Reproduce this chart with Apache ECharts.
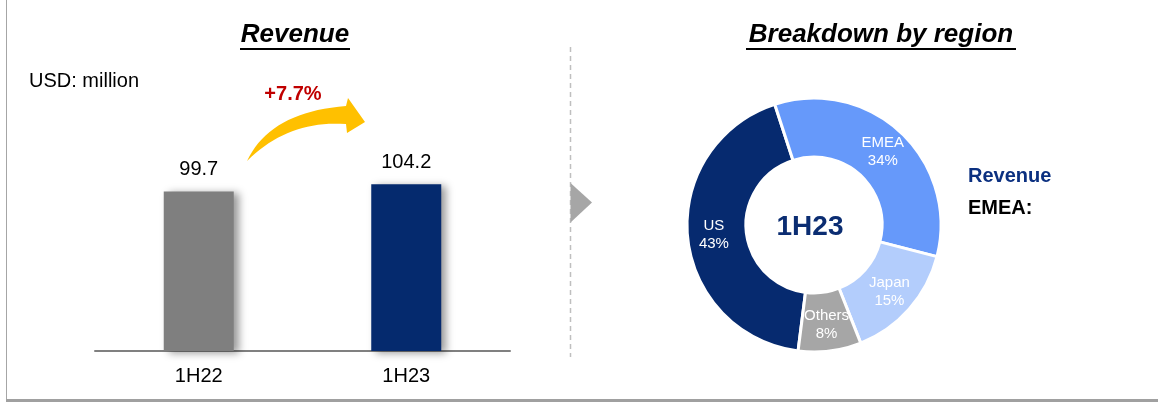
<!DOCTYPE html>
<html><head><meta charset="utf-8">
<script src="https://cdn.jsdelivr.net/npm/echarts@6/dist/echarts.min.js"></script>
<style>html,body{margin:0;padding:0;background:#fff}#c{width:1158px;height:402px}</style>
</head><body><div id="c"></div>
<script>
// ---- data ----
const periods = ['1H22', '1H23'];
const revenue = [99.7, 104.2];
const growthLabel = '+7.7%';
const unitLabel = 'USD: million';
const regions = ['US', 'EMEA', 'Japan', 'Others'];
const regionShare = [43, 34, 15, 8];
const pieCenterLabel = '1H23';
const leftTitle = 'Revenue';
const rightTitle = 'Breakdown by region';
const sideNote = ['Revenue', 'EMEA:'];

// ---- styles ----
const barColors = ['#7F7F7F', '#052A6E'];
const regionColors = ['#062A6F', '#6699FA', '#B3CDFC', '#A6A6A6'];
const FONT = '"Liberation Sans", Arial, sans-serif';

// curved growth arrow outline (decoration)
function quad(p0, c, p1, n) {
  const pts = [];
  for (let i = 0; i <= n; i++) {
    const t = i / n, u = 1 - t;
    pts.push([u * u * p0[0] + 2 * u * t * c[0] + t * t * p1[0], u * u * p0[1] + 2 * u * t * c[1] + t * t * p1[1]]);
  }
  return pts;
}
const arrowPts = [].concat(
  quad([247, 161], [270, 112], [346, 106], 20),
  [[348, 98], [365, 122], [347, 133]],
  quad([346, 124], [288, 120], [247, 161], 20)
);

const chart = echarts.init(document.getElementById('c'), null, {renderer: 'canvas'});

const option = {
  animation: false,
  backgroundColor: '#fff',
  grid: {left: 95, width: 415, top: 111, bottom: 51, containLabel: false},
  xAxis: {
    type: 'category', data: periods,
    axisLine: {lineStyle: {color: '#808080', width: 2}},
    axisTick: {show: false},
    axisLabel: {fontFamily: FONT, fontSize: 20, color: '#000', margin: 15}
  },
  yAxis: {type: 'value', min: 0, max: 150, show: false, splitLine: {show: false}},
  series: [
    {
      type: 'bar', barWidth: 70,
      data: revenue.map((v, i) => ({value: v, itemStyle: {color: barColors[i]}})),
      itemStyle: {shadowBlur: 8, shadowOffsetX: 5, shadowOffsetY: 2, shadowColor: 'rgba(0,0,0,0.4)'},
      label: {show: true, position: 'top', distance: 12, fontFamily: FONT, fontSize: 20, color: '#000'}
    },
    {
      type: 'pie', center: [814, 225], radius: [68, 127], startAngle: 262.8, clockwise: true,
      data: regions.map((r, i) => ({name: r, value: regionShare[i], itemStyle: {color: regionColors[i]}})),
      itemStyle: {borderColor: '#fff', borderWidth: 3},
      label: {show: true, position: 'inside', formatter: '{b}\n{c}%', fontFamily: FONT, fontSize: 15, lineHeight: 18, color: '#fff'},
      labelLine: {show: false},
      emphasis: {disabled: true}
    }
  ],
  graphic: [
    {type: 'line', shape: {x1: 6.5, y1: 0, x2: 6.5, y2: 400}, style: {stroke: '#A6A6A6', lineWidth: 1}},
    {type: 'line', shape: {x1: 6, y1: 400.5, x2: 1158, y2: 400.5}, style: {stroke: '#A0A0A0', lineWidth: 3}},
    {type: 'text', x: 295, y: 35, style: {text: leftTitle, font: 'italic bold 26px ' + FONT, fill: '#000', textAlign: 'center', textVerticalAlign: 'middle'}},
    {type: 'line', shape: {x1: 240, y1: 49, x2: 350, y2: 49}, style: {stroke: '#000', lineWidth: 2}},
    {type: 'text', x: 881, y: 35, style: {text: rightTitle, font: 'italic bold 26px ' + FONT, fill: '#000', textAlign: 'center', textVerticalAlign: 'middle'}},
    {type: 'line', shape: {x1: 746, y1: 49, x2: 1016, y2: 49}, style: {stroke: '#000', lineWidth: 2}},
    {type: 'text', x: 29, y: 81, style: {text: unitLabel, font: '20px ' + FONT, fill: '#000', textAlign: 'left', textVerticalAlign: 'middle'}},
    {type: 'text', x: 293, y: 94, style: {text: growthLabel, font: 'bold 20px ' + FONT, fill: '#C00000', textAlign: 'center', textVerticalAlign: 'middle'}},
    {type: 'polygon', shape: {points: arrowPts}, style: {fill: '#FFC000'}},
    {type: 'line', shape: {x1: 570.5, y1: 47, x2: 570.5, y2: 357}, style: {stroke: '#BFBFBF', lineWidth: 1.5, lineDash: [5, 4]}},
    {type: 'polygon', shape: {points: [[570.5, 183], [592, 202.5], [570.5, 222.5]]}, style: {fill: '#A6A6A6'}},
    {type: 'text', x: 810, y: 227, style: {text: pieCenterLabel, font: 'bold 28px ' + FONT, fill: '#0B2D72', textAlign: 'center', textVerticalAlign: 'middle'}},
    {type: 'text', x: 968, y: 176, style: {text: sideNote[0], font: 'bold 20px ' + FONT, fill: '#0B3080', textAlign: 'left', textVerticalAlign: 'middle'}},
    {type: 'text', x: 968, y: 208, style: {text: sideNote[1], font: 'bold 20px ' + FONT, fill: '#000', textAlign: 'left', textVerticalAlign: 'middle'}}
  ]
};
chart.setOption(option);
</script></body></html>
